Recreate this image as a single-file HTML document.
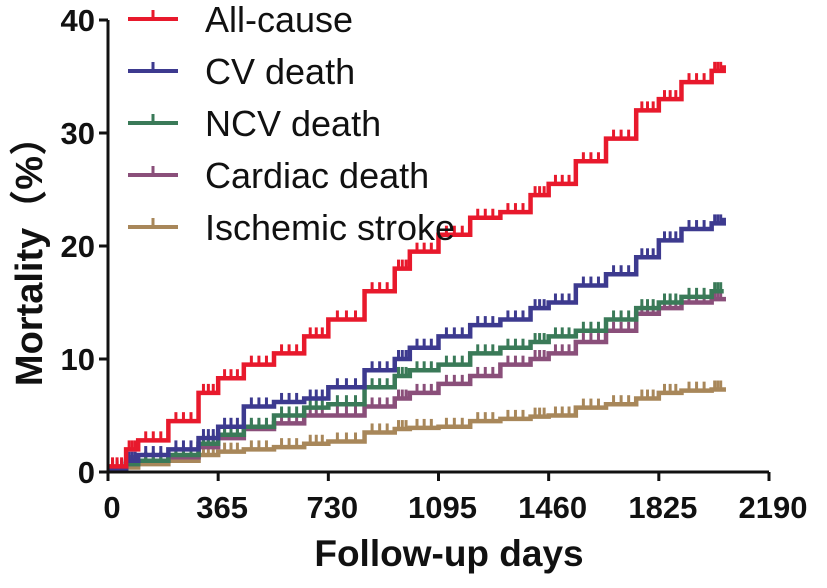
<!DOCTYPE html>
<html><head><meta charset="utf-8"><style>
body{margin:0;background:#fff;}
svg text{font-family:"Liberation Sans","Noto Sans CJK SC",sans-serif;}
</style></head><body>
<svg id="c" width="827" height="583" viewBox="0 0 827 583"></svg>
<script>
const days=[0,60,100,200,300,365,450,550,650,730,850,950,1000,1095,1200,1300,1400,1460,1550,1650,1750,1825,1900,2000,2040];
const allCause=[0.5,2,2.8,4.5,7,8.3,9.5,10.5,12,13.5,16,18,19.5,21,22.5,23,24.5,25.5,27.5,29.5,32,33,34.5,35.5,36];
const cvDeath=[0.3,1,1.5,2,3,4,5.8,6.2,6.5,7.5,9,10,11,12,13,13.5,14.5,15,16.5,17.5,19,20.5,21.5,22,22.5];
const ncvDeath=[0.2,0.7,1,1.5,2.5,3.3,4,5,5.7,6,7.5,8.5,9,9.5,10.5,11,11.5,12,12.5,13.5,14.5,15,15.5,16,16];
const cardiacDeath=[0.2,0.7,1,1.3,2.2,3,3.8,4.3,5,5,5.8,6.5,7,7.8,8.5,9.5,10,10.5,11.5,12.5,14,14.5,15,15.3,15.5];
const strokeRisk=[0.1,0.4,0.7,1,1.5,1.8,2,2.2,2.5,2.7,3.5,3.8,3.9,4,4.5,4.7,4.9,5,5.7,6,6.5,7,7.2,7.3,7.5];
const xTicks=[0,365,730,1095,1460,1825,2190];
const yTicks=[0,10,20,30,40];
const seriesNames=["All-cause","CV death","NCV death","Cardiac death","Ischemic stroke"];
const seriesData=[allCause,cvDeath,ncvDeath,cardiacDeath,strokeRisk];
const colors=["#e8192c","#3d3a8f","#3a7a58","#8a4f7a","#a8875a"];
const NS="http://www.w3.org/2000/svg";
const svg=document.getElementById('c');
const X=d=>108+d*(769-108)/2190;
const Y=v=>472-v*(472-20)/40;
function mk(t,a,p){const e=document.createElementNS(NS,t);for(const k in a)e.setAttribute(k,a[k]);(p||svg).appendChild(e);return e;}
for(let s=seriesData.length-1;s>=0;s--){
  const v=seriesData[s];
  let d="M"+X(days[0])+","+Y(v[0]);
  for(let i=1;i<days.length;i++){d+=" H"+X(days[i])+" V"+Y(v[i]);}
  const p=mk('path',{d:d,fill:'none',stroke:colors[s],'stroke-width':4.5});
  
  
  for(let i=1;i<days.length;i++){
    for(let k=1;k<=3;k++){
      const dd=days[i-1]+(days[i]-days[i-1])*k/4, vv=v[i-1];
      const t=mk('line',{x1:X(dd),x2:X(dd),y1:Y(vv),y2:Y(vv)-9,stroke:colors[s],'stroke-width':3});
      
      
    }
  }
}
const ax=mk('path',{d:`M108,20 V472 H769`,fill:'none',stroke:'#111','stroke-width':3});


yTicks.forEach(v=>{
  const l=mk('line',{x1:99,x2:108,y1:Y(v),y2:Y(v),stroke:'#111','stroke-width':3});
  
  
  const t=mk('text',{x:95,y:Y(v)+11,'text-anchor':'end','font-size':31,'font-weight':'bold',fill:'#111'});
  t.textContent=v;
  
  
});
xTicks.forEach(v=>{
  const l=mk('line',{x1:X(v),x2:X(v),y1:472,y2:481,stroke:'#111','stroke-width':3});
  
  
  const t=mk('text',{x:X(v)+4,y:518,'text-anchor':'middle','font-size':31,'font-weight':'bold',fill:'#111'});
  t.textContent=v;
  
  
});
const xt=mk('text',{x:449,y:566,'text-anchor':'middle','font-size':37,'font-weight':'bold',fill:'#111'});
xt.textContent="Follow-up days";


const yt=mk('text',{x:0,y:0,'text-anchor':'middle','font-size':38,'font-weight':'bold',fill:'#111',transform:'translate(42,252) rotate(-90)'});
yt.textContent="Mortality（%）";


seriesNames.forEach((n,i)=>{
  const y=19+i*52;
  const g=mk('g',{});
  
  
  mk('line',{x1:128,x2:178,y1:y,y2:y,stroke:colors[i],'stroke-width':4},g);
  mk('line',{x1:153,x2:153,y1:y,y2:y-9,stroke:colors[i],'stroke-width':3},g);
  const t=mk('text',{x:205,y:y+13,'font-size':36,fill:'#111'},g);
  t.textContent=n;
});
</script>
</body></html>
